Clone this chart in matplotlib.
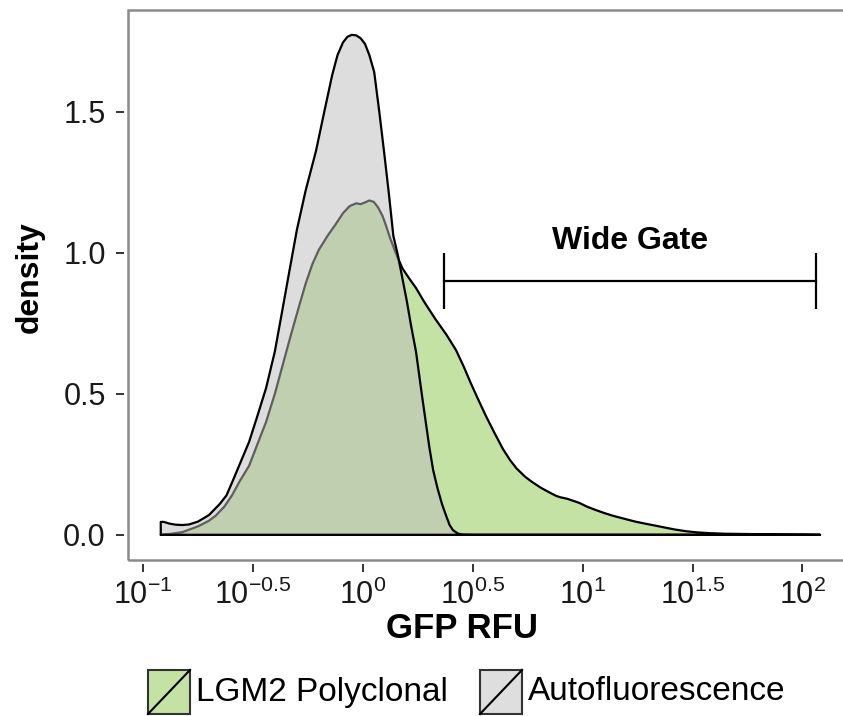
#Density plot of GFP RFU (log scale)
import matplotlib
matplotlib.use("Agg")
import matplotlib.pyplot as plt
from matplotlib.patches import Rectangle
from matplotlib.lines import Line2D
import numpy as np

plt.rcParams['font.family'] = ['Liberation Sans', 'DejaVu Sans']
plt.rcParams['mathtext.fontset'] = 'custom'
plt.rcParams['mathtext.rm'] = 'Liberation Sans'
plt.rcParams['mathtext.it'] = 'Liberation Sans'

# Sample Data (log10 of GFP RFU, density)
lgm2_log = [-0.919, -0.87, -0.82, -0.75, -0.70, -0.669, -0.63, -0.595, -0.56,
            -0.517, -0.48, -0.44, -0.40, -0.365, -0.33, -0.29, -0.26, -0.229,
            -0.20, -0.16, -0.124, -0.09, -0.06, -0.03, -0.01, 0.01, 0.03, 0.05,
            0.07, 0.09, 0.106, 0.125, 0.14, 0.16, 0.18, 0.21, 0.242, 0.28,
            0.33, 0.38, 0.424, 0.46, 0.49, 0.525, 0.561, 0.60, 0.637, 0.67,
            0.70, 0.74, 0.773, 0.81, 0.85, 0.88, 0.90, 0.93, 0.96, 0.986,
            1.02, 1.06, 1.10, 1.137, 1.19, 1.24, 1.29, 1.336, 1.38, 1.42,
            1.47, 1.518, 1.58, 1.65, 1.75, 1.85, 2.0, 2.08]
lgm2_density = [0.0, 0.004, 0.01, 0.03, 0.05, 0.068, 0.10, 0.14, 0.19,
                0.245, 0.32, 0.40, 0.50, 0.60, 0.70, 0.81, 0.89, 0.96,
                1.01, 1.06, 1.10, 1.14, 1.165, 1.175, 1.172, 1.178, 1.185, 1.18,
                1.16, 1.13, 1.095, 1.05, 1.02, 0.98, 0.945, 0.91, 0.875, 0.825,
                0.765, 0.71, 0.655, 0.595, 0.54, 0.48, 0.42, 0.36, 0.305, 0.265,
                0.235, 0.205, 0.186, 0.167, 0.15, 0.138, 0.133, 0.128, 0.12, 0.113,
                0.10, 0.088, 0.077, 0.068, 0.057, 0.047, 0.039, 0.032, 0.025, 0.019,
                0.013, 0.009, 0.006, 0.004, 0.003, 0.002, 0.001, 0.0]

auto_log = [-0.919, -0.919, -0.905, -0.88, -0.85, -0.82, -0.79, -0.75, -0.70,
            -0.65, -0.62, -0.595, -0.56, -0.517, -0.48, -0.44, -0.40, -0.365,
            -0.335, -0.30, -0.26, -0.213, -0.175, -0.139, -0.115, -0.09, -0.07,
            -0.05, -0.03, -0.01, 0.01, 0.03, 0.052, 0.075, 0.098, 0.12, 0.139,
            0.16, 0.18, 0.20, 0.22, 0.242, 0.27, 0.303, 0.32, 0.34, 0.36,
            0.379, 0.395, 0.41, 0.43, 0.447, 0.5, 2.08]
auto_density = [0.0, 0.046, 0.046, 0.040, 0.036, 0.035, 0.037, 0.047, 0.07,
                0.11, 0.14, 0.185, 0.25, 0.33, 0.42, 0.52, 0.65, 0.80,
                0.93, 1.08, 1.22, 1.36, 1.50, 1.63, 1.70, 1.745, 1.765,
                1.772, 1.77, 1.76, 1.74, 1.70, 1.64, 1.50, 1.35, 1.20, 1.06,
                0.99, 0.91, 0.83, 0.74, 0.65, 0.49, 0.31, 0.23, 0.165, 0.11,
                0.068, 0.035, 0.017, 0.006, 0.001, 0.0, 0.0]

gate_log = [0.371, 2.06]
gate_y = 0.9
gate_label = "Wide Gate"

tick_exp = [-1, -0.5, 0, 0.5, 1, 1.5, 2]
tick_labels = [r'$10^{-1}$', r'$10^{-0.5}$', r'$10^{0}$', r'$10^{0.5}$',
               r'$10^{1}$', r'$10^{1.5}$', r'$10^{2}$']
y_ticks = [0.0, 0.5, 1.0, 1.5]

series_names = ["LGM2 Polyclonal", "Autofluorescence"]
green = (0.545, 0.78, 0.294, 0.5)
gray = (0.74, 0.74, 0.74, 0.5)

W, H = 843, 716
fig = plt.figure(figsize=(W / 100, H / 100), dpi=100)
ax = fig.add_axes([128 / W, 156 / H, 725 / W, 550 / H])

# Density areas (gray drawn on top, like ggplot group order)
lgm2_x = 10 ** np.array(lgm2_log)
auto_x = 10 ** np.array(auto_log)
ax.fill(np.r_[lgm2_x, lgm2_x[:1]], np.r_[lgm2_density, [0.0]],
        facecolor=green, edgecolor='black', linewidth=1.6, joinstyle='round')
ax.fill(np.r_[auto_x, auto_x[:1]], np.r_[auto_density, [0.0]],
        facecolor=gray, edgecolor='black', linewidth=1.6, joinstyle='round')

# Gate bracket
gx = 10 ** np.array(gate_log)
ax.plot(gx, [gate_y, gate_y], color='black', linewidth=1.6)
ax.vlines(gx, gate_y - 0.1, gate_y + 0.1, color='black', linewidth=1.6)
ax.text(10 ** np.mean(gate_log), gate_y + 0.14, gate_label, ha='center', va='center',
        fontsize=23, fontweight='bold')

ax.set_xscale('log')
ax.set_xlim(10 ** -1.068, 10 ** 2.23)
ax.set_ylim(-0.089, 1.86)
ax.set_xticks(10 ** np.array(tick_exp))
ax.set_xticklabels(tick_labels)
ax.minorticks_off()
ax.set_yticks(y_ticks)
ax.set_yticklabels([f"{v:.1f}" for v in y_ticks])

# Frame + ticks detached from it
for s in ax.spines.values():
    s.set_visible(False)
ax.spines['left'].set_position(('outward', 3))
ax.spines['bottom'].set_position(('outward', 3))
ax.add_patch(Rectangle((0, 0), 1, 1, transform=ax.transAxes, fill=False,
                       edgecolor='#8a8a8a', linewidth=1.8, clip_on=False))
ax.tick_params(direction='out', length=6, width=1.4, color='#333333',
               labelsize=22, labelcolor='#1a1a1a')
ax.tick_params(axis='y', pad=7)
ax.tick_params(axis='x', pad=5)

# Axis titles
fig.text(30 / W, 1 - 277 / H, "density", rotation=90, ha='center', va='center',
         fontsize=23, fontweight='bold')
fig.text(462 / W, 1 - 628 / H, "GFP RFU", ha='center', va='center',
         fontsize=25, fontweight='bold')

# Legend drawn by hand (key with diagonal slash)
key_w, key_h = 42, 44
key_y = 1 - 714 / H
for name, col, kx in zip(series_names, [green, (0.87, 0.87, 0.87, 1)], [148, 480]):
    fig.add_artist(Rectangle((kx / W, key_y), key_w / W, key_h / H,
                             facecolor=col, edgecolor='#333333', linewidth=1.5,
                             transform=fig.transFigure))
    fig.add_artist(Line2D([kx / W, (kx + key_w) / W], [key_y, key_y + key_h / H],
                          color='black', linewidth=1.5, transform=fig.transFigure))
    fig.text((kx + key_w + 6) / W, key_y + key_h / (2 * H), name, ha='left',
             va='center', fontsize=24)

plt.savefig("out.png", dpi=100)
